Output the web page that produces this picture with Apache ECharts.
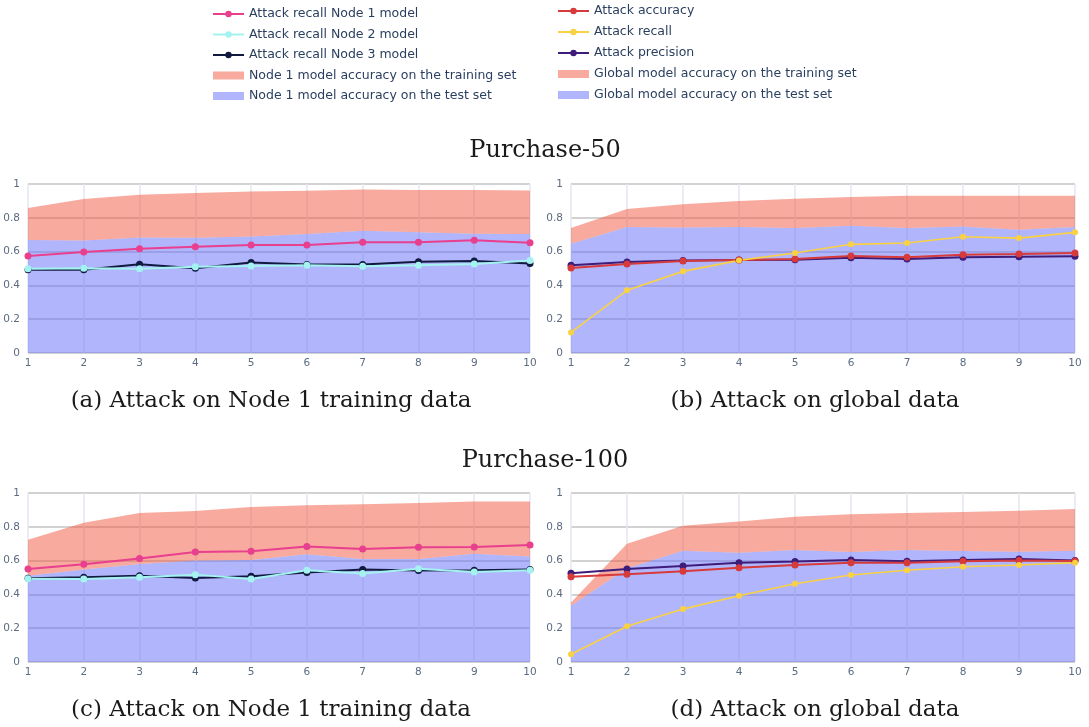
<!DOCTYPE html>
<html>
<head>
<meta charset="utf-8">
<script src="https://cdn.jsdelivr.net/npm/echarts@6/dist/echarts.min.js"></script>
<style>
  html, body { margin: 0; padding: 0; background: #ffffff; }
  #chart { width: 1089px; height: 727px; }
</style>
</head>
<body>
<div id="chart"></div>
<script>
// Federated rounds on the x axis
const rounds = ['1', '2', '3', '4', '5', '6', '7', '8', '9', '10'];
const yTicks = [0, 0.2, 0.4, 0.6, 0.8, 1];

// Purchase-50, attack on Node 1 training data
const p50NodeTrainAcc = [0.858, 0.911, 0.937, 0.947, 0.955, 0.960, 0.968, 0.965, 0.965, 0.961];
const p50NodeTestAcc  = [0.669, 0.665, 0.684, 0.682, 0.690, 0.704, 0.724, 0.714, 0.706, 0.704];
const p50RecallNode1  = [0.574, 0.598, 0.617, 0.629, 0.639, 0.639, 0.655, 0.655, 0.667, 0.653];
const p50RecallNode2  = [0.499, 0.501, 0.499, 0.511, 0.515, 0.519, 0.513, 0.519, 0.527, 0.548];
const p50RecallNode3  = [0.493, 0.493, 0.525, 0.501, 0.535, 0.523, 0.523, 0.540, 0.544, 0.529];

// Purchase-50, attack on global data
const p50GlobalTrainAcc = [0.740, 0.852, 0.880, 0.899, 0.913, 0.923, 0.931, 0.931, 0.931, 0.931];
const p50GlobalTestAcc  = [0.647, 0.746, 0.742, 0.746, 0.740, 0.753, 0.740, 0.748, 0.730, 0.746];
const p50AttackAcc      = [0.503, 0.527, 0.544, 0.550, 0.556, 0.574, 0.566, 0.582, 0.586, 0.592];
const p50AttackRecall   = [0.122, 0.371, 0.483, 0.548, 0.592, 0.643, 0.651, 0.688, 0.680, 0.714];
const p50AttackPrec     = [0.519, 0.538, 0.548, 0.550, 0.552, 0.564, 0.556, 0.566, 0.570, 0.572];

// Purchase-100, attack on Node 1 training data
const p100NodeTrainAcc = [0.723, 0.824, 0.881, 0.893, 0.917, 0.927, 0.933, 0.941, 0.949, 0.950];
const p100NodeTestAcc  = [0.511, 0.547, 0.580, 0.600, 0.604, 0.638, 0.610, 0.610, 0.640, 0.624];
const p100RecallNode1  = [0.550, 0.578, 0.612, 0.651, 0.655, 0.683, 0.669, 0.679, 0.681, 0.693];
const p100RecallNode2  = [0.493, 0.491, 0.501, 0.517, 0.491, 0.543, 0.523, 0.552, 0.533, 0.543];
const p100RecallNode3  = [0.495, 0.501, 0.511, 0.497, 0.507, 0.529, 0.547, 0.541, 0.543, 0.547];

// Purchase-100, attack on global data
const p100GlobalTrainAcc = [0.352, 0.699, 0.806, 0.832, 0.859, 0.875, 0.881, 0.887, 0.895, 0.905];
const p100GlobalTestAcc  = [0.333, 0.554, 0.659, 0.646, 0.663, 0.651, 0.663, 0.657, 0.653, 0.659];
const p100AttackAcc      = [0.505, 0.519, 0.537, 0.558, 0.574, 0.588, 0.588, 0.596, 0.600, 0.598];
const p100AttackRecall   = [0.046, 0.212, 0.313, 0.392, 0.463, 0.515, 0.543, 0.564, 0.574, 0.588];
const p100AttackPrec     = [0.525, 0.550, 0.568, 0.588, 0.594, 0.604, 0.596, 0.604, 0.610, 0.600];

const COLORS = {
  node1: '#e83f8e',
  node2: '#a4f3f0',
  node3: '#101a3e',
  acc: '#d63a3a',
  recall: '#f9d142',
  prec: '#3e1c7a',
  trainArea: 'rgba(239,85,59,0.5)',
  testArea: 'rgba(99,110,250,0.5)'
};

const NAMES = {
  node1: 'Attack recall Node 1 model',
  node2: 'Attack recall Node 2 model',
  node3: 'Attack recall Node 3 model',
  nodeTrain: 'Node 1 model accuracy on the training set',
  nodeTest: 'Node 1 model accuracy on the test set',
  acc: 'Attack accuracy',
  recall: 'Attack recall',
  prec: 'Attack precision',
  globalTrain: 'Global model accuracy on the training set',
  globalTest: 'Global model accuracy on the test set'
};

const grids = [
  { left: 28,  top: 184, width: 502, height: 169 },
  { left: 571, top: 184, width: 504, height: 169 },
  { left: 28,  top: 493, width: 502, height: 169 },
  { left: 571, top: 493, width: 504, height: 169 }
];

const axisLabelStyle = { color: '#5b6b80', fontSize: 10.5, fontFamily: 'DejaVu Sans' };

const xAxes = grids.map((g, i) => ({
  type: 'category',
  gridIndex: i,
  data: rounds,
  boundaryGap: false,
  axisLine: { show: false },
  axisTick: { show: false },
  axisLabel: Object.assign({ margin: 5 }, axisLabelStyle),
  splitLine: { show: true, lineStyle: { color: '#e4e6f0', width: 1.5 } }
}));

const yAxes = grids.map((g, i) => ({
  type: 'value',
  gridIndex: i,
  min: 0,
  max: 1,
  interval: 0.2,
  axisLine: { show: false },
  axisTick: { show: false },
  axisLabel: Object.assign({ margin: 8, formatter: v => String(+v.toFixed(1)) }, axisLabelStyle),
  splitLine: { show: true, lineStyle: { color: '#d2d2d2', width: 2 } }
}));

// Test accuracy fills from zero; training accuracy fills the band above it
function accuracyAreas(idx, train, test, trainName, testName) {
  const band = train.map((v, k) => v - test[k]);
  return [
    {
      name: testName, type: 'line', xAxisIndex: idx, yAxisIndex: idx,
      stack: 'acc' + idx, data: test, symbol: 'none', silent: true,
      color: COLORS.testArea,
      lineStyle: { width: 0 }, areaStyle: { color: COLORS.testArea, opacity: 1 }, z: 1
    },
    {
      name: trainName, type: 'line', xAxisIndex: idx, yAxisIndex: idx,
      stack: 'acc' + idx, data: band, symbol: 'none', silent: true,
      color: COLORS.trainArea,
      lineStyle: { width: 0 }, areaStyle: { color: COLORS.trainArea, opacity: 1 }, z: 1
    }
  ];
}

function lineSeries(idx, name, data, color, width, size) {
  return {
    name, type: 'line', xAxisIndex: idx, yAxisIndex: idx, data,
    color, symbol: 'circle', symbolSize: size, showSymbol: true,
    lineStyle: { color, width }, itemStyle: { color }, z: 3
  };
}

function nodePanel(idx, train, test, r1, r2, r3) {
  return [
    ...accuracyAreas(idx, train, test, NAMES.nodeTrain, NAMES.nodeTest),
    lineSeries(idx, NAMES.node3, r3, COLORS.node3, 2, 7),
    lineSeries(idx, NAMES.node2, r2, COLORS.node2, 2, 7),
    lineSeries(idx, NAMES.node1, r1, COLORS.node1, 2, 7)
  ];
}

function globalPanel(idx, train, test, acc, recall, prec) {
  return [
    ...accuracyAreas(idx, train, test, NAMES.globalTrain, NAMES.globalTest),
    lineSeries(idx, NAMES.prec, prec, COLORS.prec, 2, 7),
    lineSeries(idx, NAMES.acc, acc, COLORS.acc, 2, 7),
    lineSeries(idx, NAMES.recall, recall, COLORS.recall, 1.6, 6)
  ];
}

const series = [
  ...nodePanel(0, p50NodeTrainAcc, p50NodeTestAcc, p50RecallNode1, p50RecallNode2, p50RecallNode3),
  ...globalPanel(1, p50GlobalTrainAcc, p50GlobalTestAcc, p50AttackAcc, p50AttackRecall, p50AttackPrec),
  ...nodePanel(2, p100NodeTrainAcc, p100NodeTestAcc, p100RecallNode1, p100RecallNode2, p100RecallNode3),
  ...globalPanel(3, p100GlobalTrainAcc, p100GlobalTestAcc, p100AttackAcc, p100AttackRecall, p100AttackPrec)
];

const legendText = { color: '#2a3f5f', fontSize: 12.5, fontFamily: 'DejaVu Sans', lineHeight: 14 };
const legendCommon = {
  orient: 'vertical', itemWidth: 31, itemHeight: 8, itemGap: 6.5, padding: 0,
  textStyle: legendText, selectedMode: false
};

const legends = [
  Object.assign({}, legendCommon, {
    left: 212, top: 7,
    data: [
      { name: NAMES.node1 },
      { name: NAMES.node2 },
      { name: NAMES.node3 },
      { name: NAMES.nodeTrain, icon: 'rect' },
      { name: NAMES.nodeTest, icon: 'rect' }
    ]
  }),
  Object.assign({}, legendCommon, {
    left: 557, top: 4,
    itemGap: 7,
    data: [
      { name: NAMES.acc },
      { name: NAMES.recall },
      { name: NAMES.prec },
      { name: NAMES.globalTrain, icon: 'rect' },
      { name: NAMES.globalTest, icon: 'rect' }
    ]
  })
];

const serif = { fontFamily: 'DejaVu Serif', fill: '#1a1a1a' };
function caption(x, y, text, size) {
  return {
    type: 'text', x, y,
    style: Object.assign({ text, fontSize: size, align: 'center', verticalAlign: 'middle' }, serif)
  };
}

const chart = echarts.init(document.getElementById('chart'), null, { renderer: 'canvas' });
chart.setOption({
  backgroundColor: '#ffffff',
  animation: false,
  grid: grids,
  xAxis: xAxes,
  yAxis: yAxes,
  legend: legends,
  series,
  graphic: [
    caption(545, 151, 'Purchase-50', 24),
    caption(271, 401, '(a) Attack on Node 1 training data', 23),
    caption(815, 401, '(b) Attack on global data', 23),
    caption(545, 461, 'Purchase-100', 24),
    caption(271, 710, '(c) Attack on Node 1 training data', 23),
    caption(815, 710, '(d) Attack on global data', 23)
  ]
});
</script>
</body>
</html>
